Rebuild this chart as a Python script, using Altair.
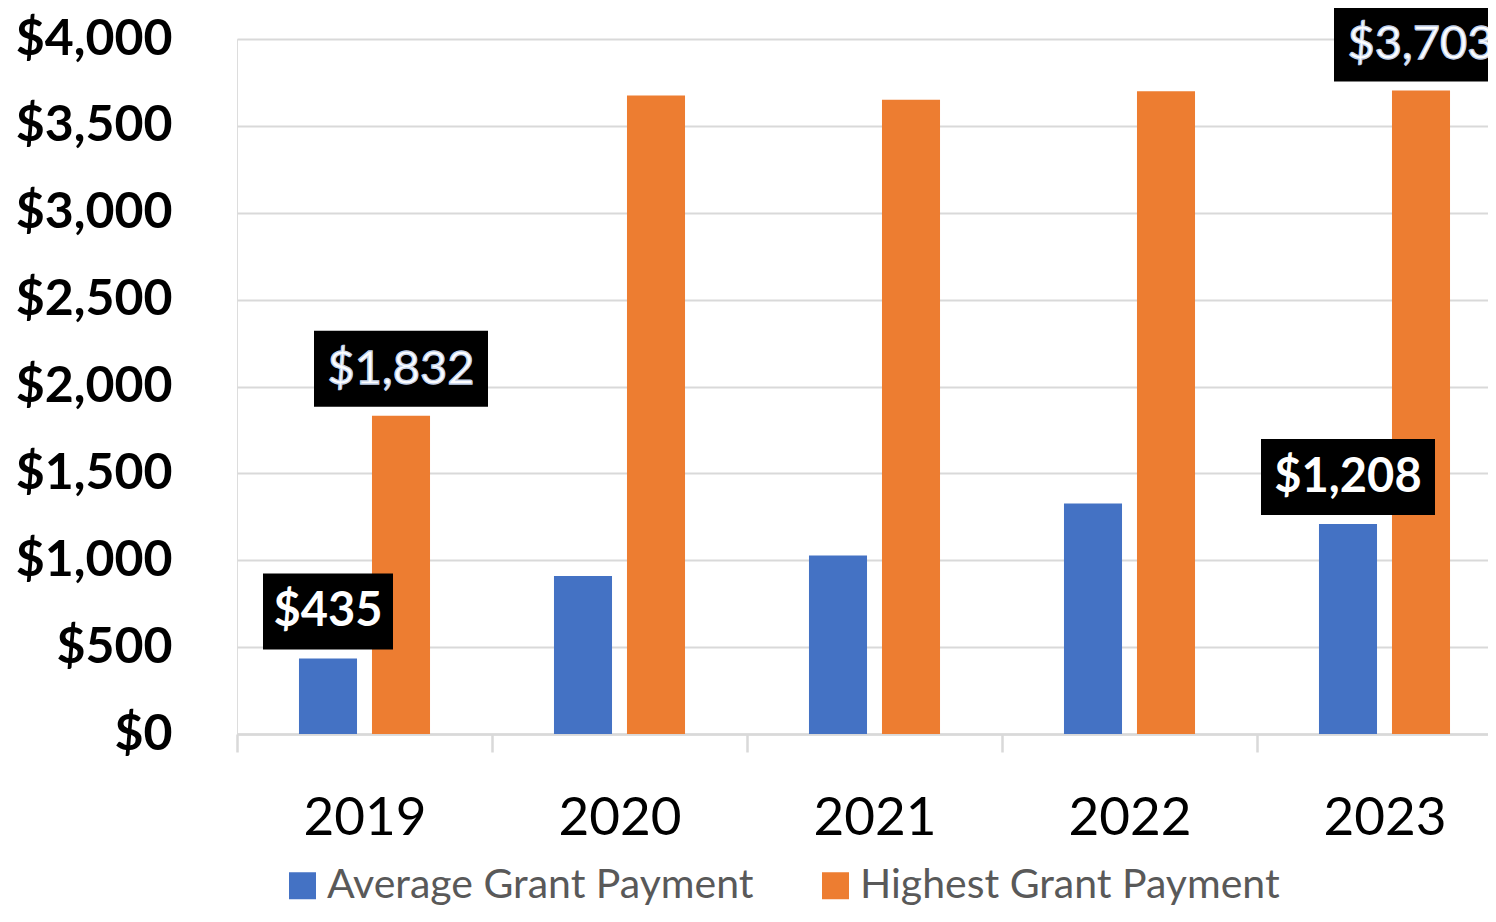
import altair as alt
import pandas as pd

years = ["2019", "2020", "2021", "2022", "2023"]
average = [435, 909, 1027, 1327, 1208]
highest = [1832, 3675, 3650, 3700, 3703]
series = ["Average Grant Payment", "Highest Grant Payment"]
colors = ["#4472C4", "#ED7D31"]
y_ticks = [0, 500, 1000, 1500, 2000, 2500, 3000, 3500, 4000]
labeled = [("2019", series[0]), ("2019", series[1]), ("2023", series[0]), ("2023", series[1])]

rows = []
for i, yr in enumerate(years):
    rows.append({"year": yr, "series": series[0], "value": average[i]})
    rows.append({"year": yr, "series": series[1], "value": highest[i]})
df = pd.DataFrame(rows)
df["label"] = df["value"].map(lambda v: f"${v:,}")

FONT = "Lato"

x_enc = alt.X(
    "year:N",
    sort=years,
    scale=alt.Scale(range=[0, 1275], paddingInner=0, paddingOuter=0),
    axis=alt.Axis(
        title=None, labelAngle=0, tickBand="extent", grid=False,
        domainColor="#d9d9d9", domainWidth=2.5,
        tickColor="#d9d9d9", tickWidth=2.5, tickSize=18,
        labelFont=FONT, labelFontSize=53, labelColor="#000000",
        labelPadding=82, labelBaseline="alphabetic",
    ),
)
xo_enc = alt.XOffset("series:N", sort=series,
                     scale=alt.Scale(domain=series, paddingInner=0.205, paddingOuter=0.849))
y_enc = alt.Y(
    "value:Q",
    scale=alt.Scale(domain=[0, 4000], nice=False),
    axis=alt.Axis(
        title=None, values=y_ticks, format="$,.0f",
        labelFont=FONT, labelFontSize=50, labelFontWeight="bold", labelColor="#000000",
        labelPadding=65, domain=False, ticks=False,
        grid=True, gridColor="#d9d9d9", gridWidth=2,
    ),
)

base = alt.Chart(df)

bars = base.mark_bar().encode(
    x=x_enc, xOffset=xo_enc, y=y_enc,
    color=alt.Color(
        "series:N",
        scale=alt.Scale(domain=series, range=colors),
        legend=alt.Legend(
            title=None, orient="none", legendX=45, legendY=826,
            direction="horizontal", symbolType="square", symbolSize=729,
            symbolStrokeWidth=0, symbolOpacity=1,
            labelFont=FONT, labelFontSize=41, labelColor="#595959",
            labelOffset=4, columnPadding=61, labelLimit=0, padding=0,
        ),
    ),
)

layers = [bars]
for yr, s in labeled:
    sub = base.transform_filter(
        (alt.datum.year == yr) & (alt.datum.series == s)
    )
    lab = df[(df.year == yr) & (df.series == s)]["label"].iloc[0]
    w = 42 + 22 * len(lab)
    box = sub.mark_bar(color="#000000", width=w, yOffset=-9, y2Offset=-85).encode(
        x=x_enc, xOffset=xo_enc, y=y_enc, y2="value:Q"
    )
    if s == series[0]:
        txt = sub.mark_text(font=FONT, fontSize=47, fontWeight="bold", color="#ffffff",
                            baseline="middle", dy=-46)
    else:
        txt = sub.mark_text(font=FONT, fontSize=47, fontWeight="normal", color="#ffffff",
                            stroke="#c5d3ec", strokeWidth=1.3,
                            baseline="middle", dy=-46)
    txt = txt.encode(x=x_enc, xOffset=xo_enc, y=y_enc, text="label:N")
    layers += [box, txt]

chart = alt.layer(*layers).properties(
    width=1251, height=695,
    autosize=alt.AutoSizeParams(type="none"),
    padding={"left": 229, "top": 31, "right": 0, "bottom": 174},
    background="#ffffff",
).configure_view(stroke=None).configure(font=FONT)

chart.save("out.html", embed_options={"renderer": "svg", "actions": False})
